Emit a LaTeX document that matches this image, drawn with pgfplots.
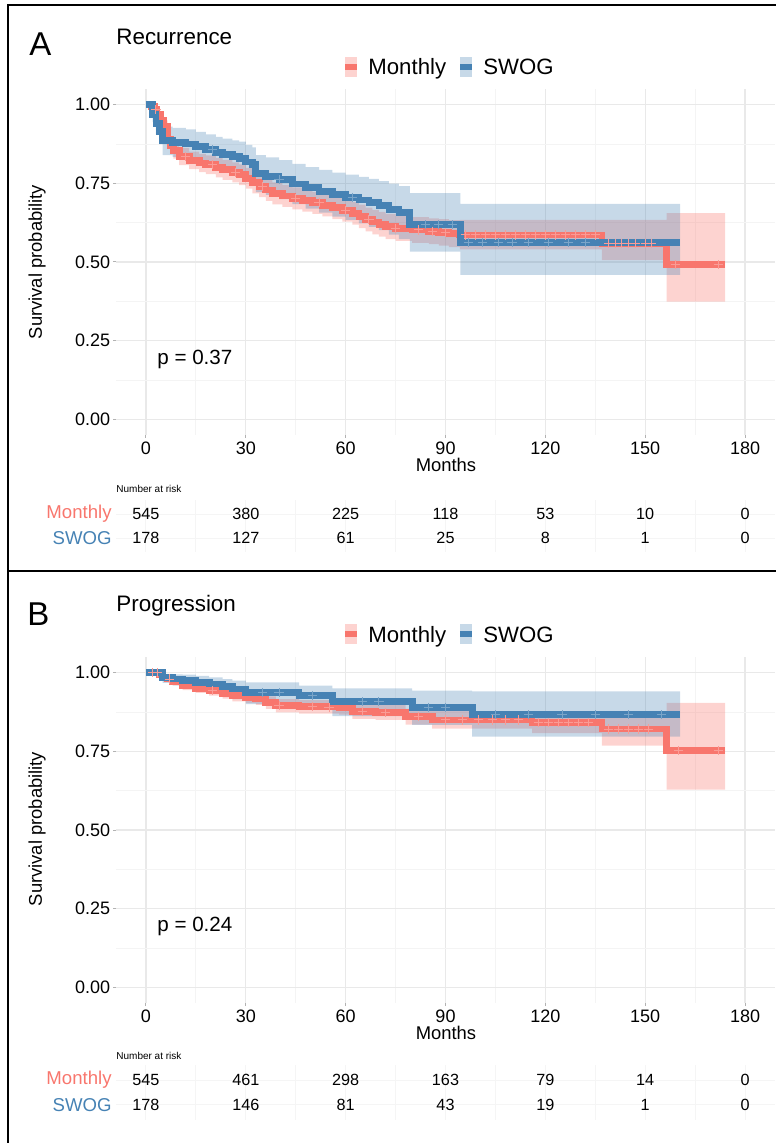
\documentclass[border=0pt]{standalone}
\usepackage{pgfplots}
\pgfplotsset{compat=1.18}
\usepgfplotslibrary{fillbetween}
\usepackage{pgfplotstable}
\usepackage{fontspec}
\setmainfont{Liberation Sans}
\definecolor{mred}{HTML}{F8766D}
\definecolor{sblue}{HTML}{4682B4}
\definecolor{gridc}{gray}{0.915}
\definecolor{gridm}{gray}{0.955}
\definecolor{gridr}{gray}{0.96}

% ---------- Panel A: Recurrence ----------
\pgfplotstableread{
t s u l
0 1.000 1.000 1.000
1.5 0.995 1.000 0.989
2.5 0.985 0.996 0.975
3.2 0.968 0.983 0.954
4.3 0.950 0.968 0.933
5.4 0.930 0.950 0.910
6.5 0.890 0.913 0.867
7.3 0.870 0.895 0.846
8.2 0.855 0.881 0.829
10 0.835 0.862 0.808
13 0.823 0.851 0.795
16 0.815 0.844 0.786
18 0.809 0.839 0.779
21 0.800 0.831 0.769
23 0.793 0.825 0.761
26 0.785 0.817 0.753
28 0.777 0.810 0.744
30 0.766 0.799 0.733
32 0.752 0.786 0.718
34 0.740 0.774 0.706
36 0.729 0.764 0.694
38 0.718 0.753 0.683
41 0.710 0.745 0.675
44 0.702 0.737 0.667
47 0.695 0.730 0.660
50 0.688 0.723 0.653
53 0.680 0.715 0.645
56 0.672 0.708 0.636
59 0.664 0.700 0.628
62 0.655 0.691 0.619
64 0.645 0.682 0.608
66 0.635 0.673 0.597
68 0.627 0.666 0.588
70 0.620 0.659 0.581
72 0.613 0.653 0.573
75 0.607 0.647 0.567
80 0.602 0.643 0.561
85 0.598 0.639 0.557
88 0.594 0.636 0.552
91 0.590 0.633 0.547
94.3 0.586 0.634 0.540
137 0.559 0.634 0.506
156.4 0.492 0.655 0.374
174 0.492 0.655 0.374
}\monA

\pgfplotstableread{
t s u l
0 1.000 1.000 1.000
2 0.970 0.995 0.945
3 0.940 0.975 0.905
4 0.915 0.955 0.875
5 0.885 0.930 0.840
8 0.880 0.926 0.834
12 0.875 0.922 0.828
15 0.866 0.914 0.818
18 0.857 0.906 0.808
21 0.848 0.898 0.798
23 0.841 0.892 0.790
26 0.835 0.887 0.783
28 0.830 0.883 0.777
30 0.818 0.872 0.764
32 0.809 0.864 0.754
33 0.781 0.840 0.722
36 0.773 0.833 0.713
40 0.762 0.824 0.700
44 0.748 0.812 0.684
48 0.736 0.802 0.670
52 0.725 0.793 0.657
56 0.714 0.784 0.644
60 0.706 0.778 0.634
64 0.697 0.771 0.623
67 0.688 0.764 0.612
70 0.679 0.757 0.601
73 0.668 0.749 0.587
76 0.657 0.741 0.573
79.3 0.618 0.719 0.533
94.5 0.561 0.685 0.459
160.5 0.561 0.685 0.459
}\swoA

% ---------- Panel B: Progression ----------
\pgfplotstableread{
t s u l
0 1.000 1.000 1.000
4 0.995 1.000 0.989
5 0.985 0.994 0.976
6.5 0.980 0.990 0.970
8 0.972 0.984 0.960
11 0.959 0.973 0.945
15 0.951 0.966 0.936
19 0.943 0.959 0.927
23 0.935 0.952 0.918
26 0.927 0.945 0.909
30 0.922 0.940 0.903
33 0.917 0.936 0.898
36 0.905 0.925 0.885
39 0.895 0.916 0.874
46 0.892 0.913 0.870
58 0.890 0.912 0.867
62 0.877 0.900 0.853
69 0.874 0.898 0.850
78 0.860 0.885 0.835
86 0.850 0.878 0.822
116 0.842 0.875 0.808
137 0.821 0.870 0.768
156.4 0.752 0.904 0.628
174 0.752 0.904 0.628
}\monB

\pgfplotstableread{
t s u l
0 1.000 1.000 1.000
5 0.985 0.996 0.968
8 0.980 0.995 0.960
11 0.975 0.994 0.952
15 0.970 0.990 0.945
19 0.964 0.985 0.937
23 0.956 0.980 0.926
26 0.948 0.975 0.916
30 0.937 0.969 0.900
46 0.927 0.959 0.885
56 0.908 0.950 0.862
80 0.890 0.943 0.834
98 0.866 0.941 0.797
160.5 0.866 0.941 0.797
}\swoB

% ---------- risk tables ----------
\pgfplotstableread{
x y n
0 2 545
30 2 380
60 2 225
90 2 118
120 2 53
150 2 10
180 2 0
0 1 178
30 1 127
60 1 61
90 1 25
120 1 8
150 1 1
180 1 0
}\riskA

\pgfplotstableread{
x y n
0 2 545
30 2 461
60 2 298
90 2 163
120 2 79
150 2 14
180 2 0
0 1 178
30 1 146
60 1 81
90 1 43
120 1 19
150 1 1
180 1 0
}\riskB

\pgfplotsset{
  km/.style={
    scale only axis, width=329.5pt, height=173pt,
    xmin=-9, xmax=189, ymin=-0.05, ymax=1.05,
    xtick={0,30,...,180}, minor xtick={15,45,75,105,135,165},
    ytick={0,0.25,0.5,0.75,1}, minor ytick={0.125,0.375,0.625,0.875},
    grid=both,
    major grid style={draw=gridc, line width=0.6pt},
    minor grid style={draw=gridm, line width=0.4pt},
    axis line style={draw=none},
    tick pos=left, tick align=outside,
    major tick length=1.5pt, minor tick length=0pt,
    tick style={draw=gray!60, line width=0.5pt},
    /pgf/number format/assume math mode=true,
    ticklabel style={font=\fontsize{9}{10}\selectfont},
    yticklabel style={inner sep=1.2pt, /pgf/number format/.cd, fixed, fixed zerofill, precision=2},
    xticklabel style={inner sep=2pt},
  },
  risk/.style={
    scale only axis, width=329.5pt,
    xmin=-9, xmax=189, ymin=0.4, ymax=2.6,
    xtick={0,30,...,180}, minor xtick={15,45,75,105,135,165},
    xticklabels={},
    ytick={1,2}, yticklabels={\textcolor{sblue}{SWOG},\textcolor{mred}{Monthly}},
    grid=both,
    major grid style={draw=gridr, line width=0.5pt},
    minor grid style={draw=gridr, line width=0.4pt},
    axis line style={draw=none},
    major tick length=0pt, minor tick length=0pt,
    yticklabel style={font=\fontsize{9.3}{11}\selectfont, inner sep=2pt},
  },
  band/.style={draw=none, const plot},
  kmline/.style={const plot, line width=3.4pt, line cap=butt},
  cens/.style={only marks, mark=+, mark size=2.3pt, line width=0.5pt},
  risknum/.style={draw=none, nodes near coords, point meta=explicit symbolic,
    nodes near coords style={anchor=center, font=\fontsize{8.1}{10}\selectfont, text=black}},
}

\begin{document}
\begin{tikzpicture}

% ================= Panel A =================
\begin{axis}[km, at={(58pt,-217.5pt)}, anchor=south west]
\addplot[band, name path=mAu] table[x=t,y=u]{\monA};
\addplot[band, name path=mAl] table[x=t,y=l]{\monA};
\addplot[fill=mred, opacity=0.32, draw=none] fill between[of=mAu and mAl];
\addplot[band, name path=sAu] table[x=t,y=u]{\swoA};
\addplot[band, name path=sAl] table[x=t,y=l]{\swoA};
\addplot[fill=sblue, opacity=0.30, draw=none] fill between[of=sAu and sAl];
\addplot[kmline, mred] table[x=t,y=s]{\monA};
\addplot[kmline, sblue] table[x=t,y=s]{\swoA};
\addplot[cens, mred!72!white] coordinates {
(3,0.985) (12,0.835) (20,0.809) (27,0.785) (35,0.740) (45,0.702) (52,0.688)
(60,0.664) (67,0.635) (75,0.607) (82,0.602) (86,0.598) (90,0.594)
(96,0.586) (99,0.586) (102,0.586) (105,0.586) (108,0.586) (111,0.586)
(114,0.586) (117,0.586) (120,0.586) (123,0.586) (126,0.586) (129,0.586)
(132,0.586) (135,0.586)
(139,0.559) (141,0.559) (143,0.559) (145,0.559) (147,0.559) (150,0.559) (152,0.559)
(159,0.492) (172,0.492)};
\addplot[cens, sblue!72!white] coordinates {
(20,0.857) (40,0.762) (62,0.706) (84,0.618) (88,0.618) (92,0.618)
(97,0.561) (101,0.561) (106,0.561) (110,0.561) (115,0.561) (121,0.561) (127,0.561) (132,0.561)};
\node[anchor=base west, font=\fontsize{10.3}{12}\selectfont, inner sep=0pt]
  at (axis cs:3.3,0.173) {p = 0.37};
\end{axis}

\begin{axis}[risk, at={(58pt,-276.2pt)}, anchor=south west, height=26.4pt]
\addplot[risknum] table[x=x,y=y,meta=n]{\riskA};
\end{axis}

% ================= Panel B =================
\begin{axis}[km, at={(58pt,-501.5pt)}, anchor=south west]
\addplot[band, name path=mBu] table[x=t,y=u]{\monB};
\addplot[band, name path=mBl] table[x=t,y=l]{\monB};
\addplot[fill=mred, opacity=0.32, draw=none] fill between[of=mBu and mBl];
\addplot[band, name path=sBu] table[x=t,y=u]{\swoB};
\addplot[band, name path=sBl] table[x=t,y=l]{\swoB};
\addplot[fill=sblue, opacity=0.30, draw=none] fill between[of=sBu and sBl];
\addplot[kmline, mred] table[x=t,y=s]{\monB};
\addplot[kmline, sblue] table[x=t,y=s]{\swoB};
\addplot[cens, mred!72!white] coordinates {
(2,1.000) (3.5,1.000) (7,0.980) (20,0.943) (40,0.895) (50,0.892) (55,0.890)
(65,0.877) (72,0.874) (82,0.860) (90,0.850) (95,0.850) (100,0.850) (104,0.850)
(108,0.850) (112,0.850) (118,0.842) (121,0.842) (124,0.842) (127,0.842)
(130,0.842) (133,0.842) (139,0.821) (142,0.821) (145,0.821) (148,0.821)
(151,0.821) (160,0.752) (172,0.752)};
\addplot[cens, sblue!72!white] coordinates {
(35,0.937) (40,0.937) (50,0.927) (65,0.908) (70,0.908) (85,0.890) (90,0.890)
(105,0.866) (115,0.866) (125,0.866) (135,0.866) (145,0.866) (155,0.866)};
\node[anchor=base west, font=\fontsize{10.3}{12}\selectfont, inner sep=0pt]
  at (axis cs:3.3,0.176) {p = 0.24};
\end{axis}

\begin{axis}[risk, at={(58pt,-559.85pt)}, anchor=south west, height=27.2pt]
\addplot[risknum] table[x=x,y=y,meta=n]{\riskB};
\end{axis}

% ================= frame, titles, legends =================
\begin{scope}[x=0.5pt,y=-0.5pt]
\draw[line width=1pt] (7.5,1143) -- (7.5,5.5) -- (776,5.5);
\draw[line width=1pt] (7.5,571) -- (776,571);

% Panel A texts
\node[anchor=base west, inner sep=0pt, font=\fontsize{16.5}{18}\selectfont] at (29,56) {A};
\node[anchor=base west, inner sep=0pt, font=\fontsize{11.2}{13}\selectfont] at (116,44.3) {Recurrence};
\fill[mred, opacity=0.32] (345,57) rectangle (357,77);
\fill[mred] (345,64) rectangle (357,70);
\node[anchor=base west, inner sep=0pt, font=\fontsize{11.1}{13}\selectfont] at (368,75) {Monthly};
\fill[sblue, opacity=0.30] (460,57) rectangle (472,77);
\fill[sblue] (460,64) rectangle (472,70);
\node[anchor=base west, inner sep=0pt, font=\fontsize{11.1}{13}\selectfont] at (483,75) {SWOG};
\node[rotate=90, font=\fontsize{9.2}{11}\selectfont] at (37,262) {Survival probability};
\node[anchor=base, inner sep=0pt, font=\fontsize{9.2}{11}\selectfont] at (446,472) {Months};
\node[anchor=base west, inner sep=0pt, font=\fontsize{5}{6}\selectfont] at (116,492) {Number at risk};

% Panel B texts
\node[anchor=base west, inner sep=0pt, font=\fontsize{16.5}{18}\selectfont] at (27,625) {B};
\node[anchor=base west, inner sep=0pt, font=\fontsize{11.2}{13}\selectfont] at (116,611.7) {Progression};
\fill[mred, opacity=0.32] (345,624) rectangle (357,644);
\fill[mred] (345,631) rectangle (357,637);
\node[anchor=base west, inner sep=0pt, font=\fontsize{11.1}{13}\selectfont] at (368,642) {Monthly};
\fill[sblue, opacity=0.30] (460,624) rectangle (472,644);
\fill[sblue] (460,631) rectangle (472,637);
\node[anchor=base west, inner sep=0pt, font=\fontsize{11.1}{13}\selectfont] at (483,642) {SWOG};
\node[rotate=90, font=\fontsize{9.2}{11}\selectfont] at (37,829) {Survival probability};
\node[anchor=base, inner sep=0pt, font=\fontsize{9.2}{11}\selectfont] at (446,1039) {Months};
\node[anchor=base west, inner sep=0pt, font=\fontsize{5}{6}\selectfont] at (116,1059) {Number at risk};
\end{scope}

\pgfresetboundingbox
\useasboundingbox (0,0) rectangle (387.5pt,-571.5pt);
\end{tikzpicture}
\end{document}
